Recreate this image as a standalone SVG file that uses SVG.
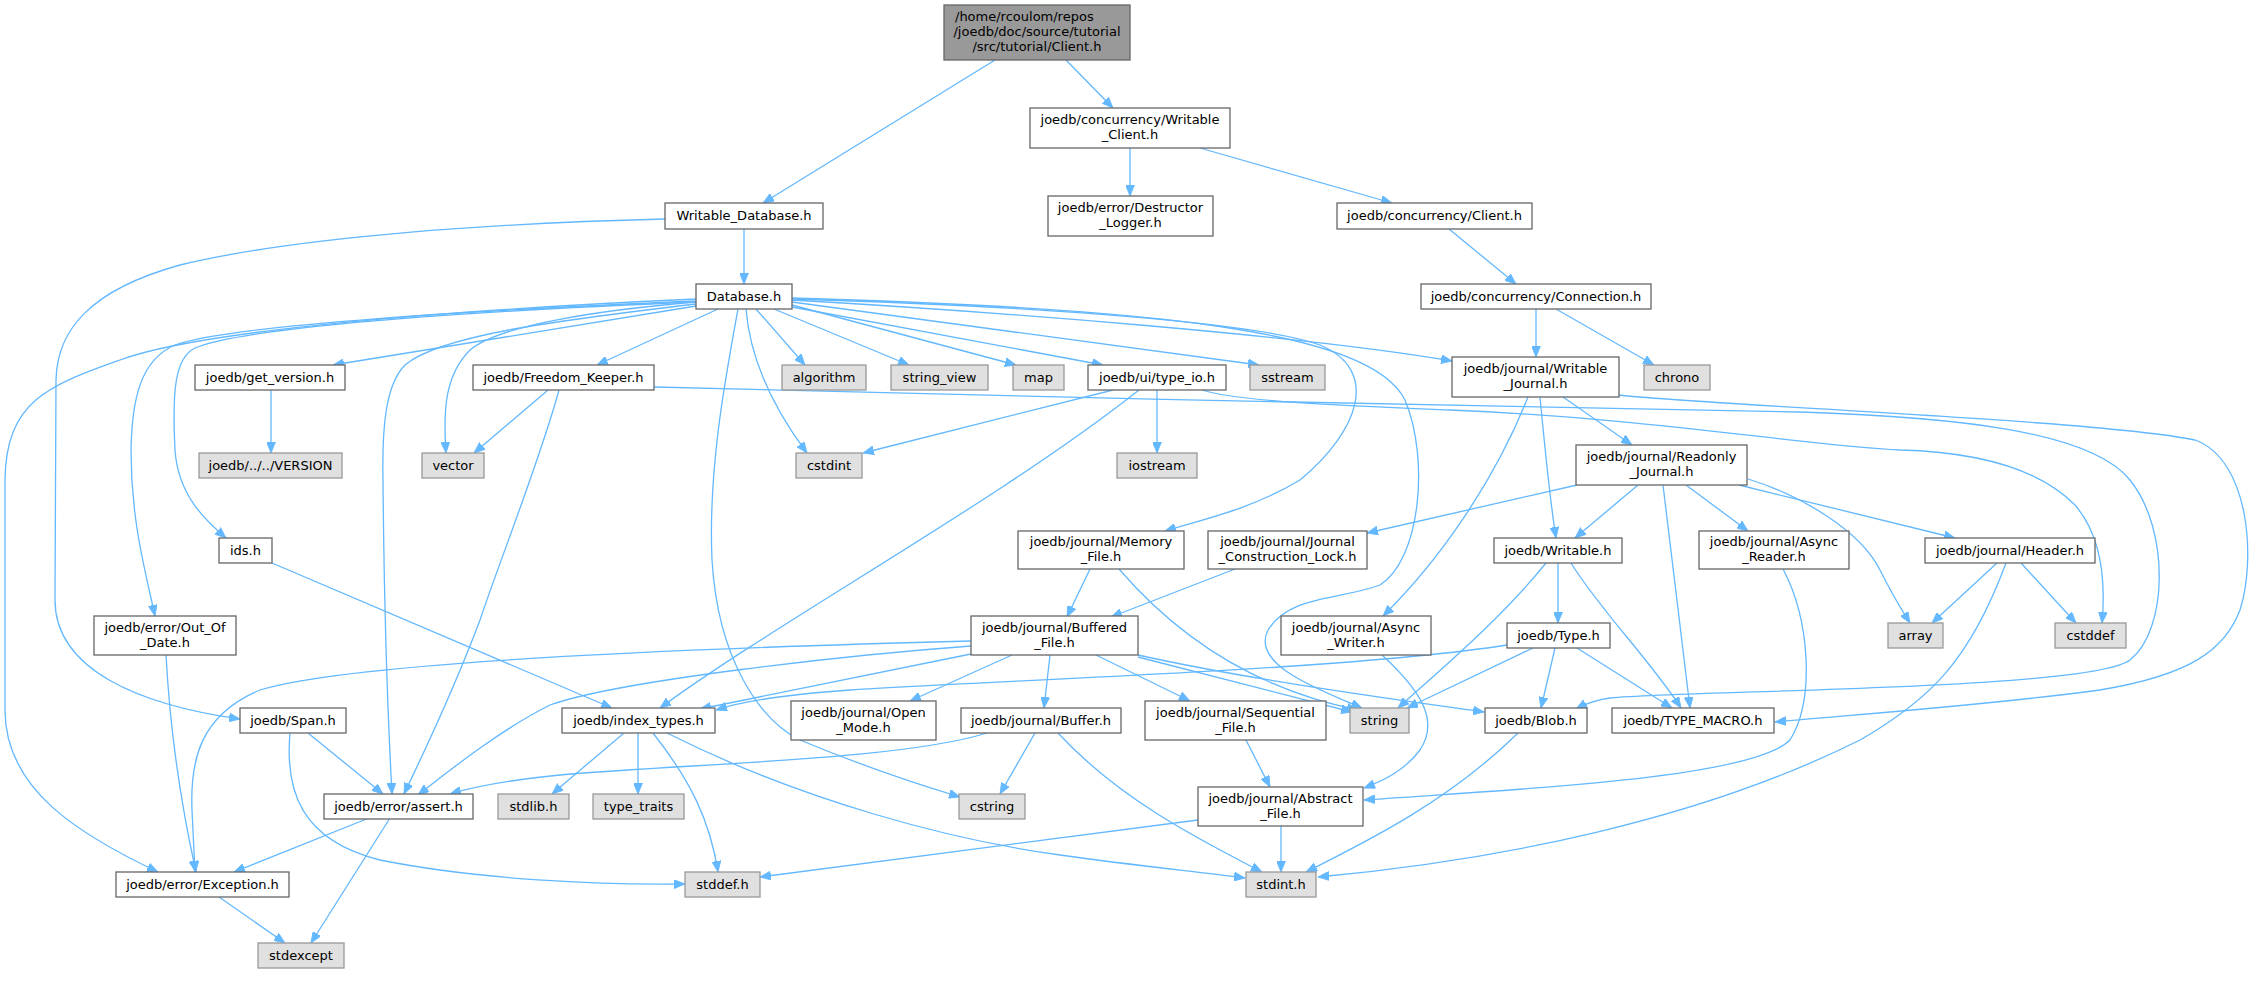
<svg xmlns="http://www.w3.org/2000/svg" width="2256" height="989" viewBox="0 0 2256 989">
<defs>
<style>
.e{fill:none;stroke:#63b8ff;stroke-width:1.3;marker-end:url(#a)}
.w{fill:#ffffff;stroke:#666666;stroke-width:1.3}
.x{fill:#e0e0e0;stroke:#999999;stroke-width:1.3}
.r{fill:#999999;stroke:#666666;stroke-width:1.3}
text{font-family:"DejaVu Sans","Liberation Sans",sans-serif;font-size:13px;fill:#000000;text-anchor:middle}
text.l{text-anchor:start}
</style>
<marker id="a" markerUnits="userSpaceOnUse" markerWidth="11" markerHeight="9" refX="11" refY="4.5" orient="auto" viewBox="0 0 11 9"><path d="M0,0 L11,4.5 L0,9 z" fill="#63b8ff" stroke="#63b8ff" stroke-width="0.8"/></marker>
</defs>
<rect x="0" y="0" width="2256" height="989" fill="#ffffff"/>
<g id="edges">
<path class="e" d="M995,60 L763,203"/>
<path class="e" d="M1066,60 L1113,108"/>
<path class="e" d="M1130,148 L1130,196"/>
<path class="e" d="M1200,148 L1392,203"/>
<path class="e" d="M744,229 L744,284"/>
<path class="e" d="M665,219 C500,223 300,236 180,265 C90,290 57,330 56,380 L55,600 C55,670 140,705 240,719"/>
<path class="e" d="M1449,229 L1516,284"/>
<path class="e" d="M1536,309 L1536,357"/>
<path class="e" d="M1556,309 L1654,365"/>
<path class="e" d="M696,306 L333,365"/>
<path class="e" d="M718,309 L597,365"/>
<path class="e" d="M756,309 L805,365"/>
<path class="e" d="M774,309 L909,365"/>
<path class="e" d="M792,305 L1016,365"/>
<path class="e" d="M792,307 L1103,365"/>
<path class="e" d="M792,302 L1259,365"/>
<path class="e" d="M792,300 C1000,312 1300,335 1452,361"/>
<path class="e" d="M792,299 C1000,305 1250,320 1320,345 C1380,370 1360,430 1300,480 C1250,510 1200,520 1165,531"/>
<path class="e" d="M792,298 C1150,308 1370,330 1405,400 C1430,460 1420,560 1380,585 C1340,600 1290,595 1268,630 C1250,665 1320,690 1362,708"/>
<path class="e" d="M696,302 C600,310 500,325 470,350 C445,375 443,410 446,453"/>
<path class="e" d="M746,309 C750,360 775,410 807,453"/>
<path class="e" d="M738,309 C725,380 708,470 712,560 C718,660 760,720 800,740 C860,765 910,782 960,797"/>
<path class="e" d="M696,302 C500,310 250,325 195,348 C175,358 172,390 175,450 C178,495 205,520 226,538"/>
<path class="e" d="M696,301 C480,310 230,325 175,345 C140,360 132,400 131,450 C131,520 145,570 155,616"/>
<path class="e" d="M696,299 C450,310 200,330 120,360 C50,385 6,400 5,480 L5,710 C5,790 80,835 158,872"/>
<path class="e" d="M696,304 C560,320 440,335 405,365 C385,385 382,430 383,480 C384,600 388,720 392,794"/>
<path class="e" d="M548,390 L474,453"/>
<path class="e" d="M559,390 C540,460 500,560 480,620 C450,700 420,760 404,794"/>
<path class="e" d="M654,387 C1000,398 1500,405 1800,412 C1950,417 2090,430 2130,480 C2170,530 2168,630 2130,660 C2090,690 1700,690 1610,698 C1595,700 1585,704 1576,709"/>
<path class="e" d="M1113,390 L863,453"/>
<path class="e" d="M1157,390 L1157,453"/>
<path class="e" d="M1139,390 C1000,500 780,620 660,708"/>
<path class="e" d="M1202,390 C1240,402 1350,406 1450,410 C1650,418 1800,445 1900,450 C1980,452 2040,470 2075,505 C2105,540 2105,590 2102,623"/>
<path class="e" d="M1563,397 L1632,445"/>
<path class="e" d="M1540,397 C1545,450 1550,500 1556,538"/>
<path class="e" d="M1528,397 C1495,480 1440,560 1383,616"/>
<path class="e" d="M1619,395 C1700,405 2100,420 2195,440 C2250,460 2256,560 2240,610 C2225,650 2190,675 2100,690 C1990,705 1850,715 1775,722"/>
<path class="e" d="M1577,485 L1367,533"/>
<path class="e" d="M1638,485 L1575,538"/>
<path class="e" d="M1663,485 L1690,708"/>
<path class="e" d="M1686,485 L1748,531"/>
<path class="e" d="M1748,479 C1800,495 1860,530 1880,570 C1895,600 1905,615 1910,623"/>
<path class="e" d="M1739,485 L1955,538"/>
<path class="e" d="M1546,563 C1500,620 1440,670 1398,708"/>
<path class="e" d="M1558,563 L1558,623"/>
<path class="e" d="M1571,563 C1600,610 1650,660 1681,708"/>
<path class="e" d="M1533,648 L1407,708"/>
<path class="e" d="M1555,648 L1541,708"/>
<path class="e" d="M1577,648 L1672,708"/>
<path class="e" d="M1507,645 C1350,670 1000,680 850,690 C780,695 740,702 716,710"/>
<path class="e" d="M1997,563 L1932,623"/>
<path class="e" d="M2021,563 L2076,623"/>
<path class="e" d="M2006,563 C1970,660 1930,700 1860,740 C1700,820 1500,860 1318,877"/>
<path class="e" d="M1783,569 C1810,620 1815,700 1790,740 C1750,780 1500,790 1364,800"/>
<path class="e" d="M1235,569 L1111,617"/>
<path class="e" d="M1090,569 L1067,617"/>
<path class="e" d="M1119,569 C1180,640 1260,690 1358,710"/>
<path class="e" d="M1138,657 L1352,712"/>
<path class="e" d="M1138,655 C1250,680 1400,700 1484,712"/>
<path class="e" d="M1096,655 L1190,701"/>
<path class="e" d="M1050,655 L1044,708"/>
<path class="e" d="M1012,655 L910,701"/>
<path class="e" d="M971,654 L700,709"/>
<path class="e" d="M971,646 C850,655 620,680 550,705 C500,730 450,770 418,795"/>
<path class="e" d="M971,641 C700,648 350,662 260,690 C200,715 190,760 192,810 L195,872"/>
<path class="e" d="M987,733 C900,760 700,763 560,775 C510,780 470,788 450,794"/>
<path class="e" d="M1035,733 L1000,794"/>
<path class="e" d="M1058,733 C1120,800 1200,840 1262,872"/>
<path class="e" d="M1246,740 L1270,787"/>
<path class="e" d="M1382,655 C1420,690 1440,720 1420,750 C1405,770 1385,780 1364,788"/>
<path class="e" d="M1198,820 L760,877"/>
<path class="e" d="M1281,826 L1281,872"/>
<path class="e" d="M1518,733 C1450,800 1370,840 1306,872"/>
<path class="e" d="M624,733 L552,794"/>
<path class="e" d="M638,733 L638,794"/>
<path class="e" d="M653,733 C690,780 710,820 718,872"/>
<path class="e" d="M667,733 C800,800 950,840 1060,855 C1130,865 1200,872 1245,878"/>
<path class="e" d="M308,733 L383,794"/>
<path class="e" d="M290,733 C285,790 300,840 380,860 C480,880 600,885 685,884"/>
<path class="e" d="M272,563 L612,708"/>
<path class="e" d="M369,818 L234,872"/>
<path class="e" d="M390,818 L311,943"/>
<path class="e" d="M219,897 L285,943"/>
<path class="e" d="M166,655 C170,730 180,800 196,872"/>
<path class="e" d="M271,390 L271,453"/>
</g>
<g id="n_root"><rect class="r" x="944" y="5" width="186" height="55"/><text class="l" x="955" y="21">/home/rcoulom/repos</text><text x="1037" y="36">/joedb/doc/source/tutorial</text><text x="1037" y="51">/src/tutorial/Client.h</text></g>
<g id="n_writable_database"><rect class="w" x="665" y="203" width="158" height="26"/><text x="744" y="220">Writable_Database.h</text></g>
<g id="n_writable_client"><rect class="w" x="1030" y="108" width="200" height="40"/><text x="1130" y="124">joedb/concurrency/Writable</text><text x="1130" y="139">_Client.h</text></g>
<g id="n_destructor_logger"><rect class="w" x="1048" y="196" width="165" height="40"/><text x="1130.5" y="212">joedb/error/Destructor</text><text x="1130.5" y="227">_Logger.h</text></g>
<g id="n_conc_client"><rect class="w" x="1337" y="203" width="195" height="26"/><text x="1434.5" y="220">joedb/concurrency/Client.h</text></g>
<g id="n_database"><rect class="w" x="696" y="284" width="96" height="25"/><text x="744" y="301">Database.h</text></g>
<g id="n_connection"><rect class="w" x="1421" y="284" width="230" height="25"/><text x="1536" y="301">joedb/concurrency/Connection.h</text></g>
<g id="n_get_version"><rect class="w" x="195" y="365" width="150" height="25"/><text x="270" y="382">joedb/get_version.h</text></g>
<g id="n_freedom_keeper"><rect class="w" x="473" y="365" width="181" height="25"/><text x="563.5" y="382">joedb/Freedom_Keeper.h</text></g>
<g id="n_algorithm"><rect class="x" x="782" y="365" width="84" height="25"/><text x="824" y="382">algorithm</text></g>
<g id="n_string_view"><rect class="x" x="891" y="365" width="97" height="25"/><text x="939.5" y="382">string_view</text></g>
<g id="n_map"><rect class="x" x="1013" y="365" width="51" height="25"/><text x="1038.5" y="382">map</text></g>
<g id="n_type_io"><rect class="w" x="1088" y="365" width="138" height="25"/><text x="1157" y="382">joedb/ui/type_io.h</text></g>
<g id="n_sstream"><rect class="x" x="1250" y="365" width="75" height="25"/><text x="1287.5" y="382">sstream</text></g>
<g id="n_writable_journal"><rect class="w" x="1452" y="357" width="167" height="40"/><text x="1535.5" y="373">joedb/journal/Writable</text><text x="1535.5" y="388">_Journal.h</text></g>
<g id="n_chrono"><rect class="x" x="1644" y="365" width="66" height="25"/><text x="1677" y="382">chrono</text></g>
<g id="n_version"><rect class="x" x="199" y="453" width="143" height="25"/><text x="270.5" y="470">joedb/../../VERSION</text></g>
<g id="n_vector"><rect class="x" x="422" y="453" width="62" height="25"/><text x="453" y="470">vector</text></g>
<g id="n_cstdint"><rect class="x" x="796" y="453" width="66" height="25"/><text x="829" y="470">cstdint</text></g>
<g id="n_iostream"><rect class="x" x="1117" y="453" width="80" height="25"/><text x="1157" y="470">iostream</text></g>
<g id="n_readonly_journal"><rect class="w" x="1576" y="445" width="171" height="40"/><text x="1661.5" y="461">joedb/journal/Readonly</text><text x="1661.5" y="476">_Journal.h</text></g>
<g id="n_ids"><rect class="w" x="219" y="538" width="53" height="25"/><text x="245.5" y="555">ids.h</text></g>
<g id="n_memory_file"><rect class="w" x="1018" y="531" width="166" height="38"/><text x="1101" y="546">joedb/journal/Memory</text><text x="1101" y="561">_File.h</text></g>
<g id="n_journal_construction_lock"><rect class="w" x="1208" y="531" width="159" height="38"/><text x="1287.5" y="546">joedb/journal/Journal</text><text x="1287.5" y="561">_Construction_Lock.h</text></g>
<g id="n_writable"><rect class="w" x="1494" y="538" width="128" height="25"/><text x="1558" y="555">joedb/Writable.h</text></g>
<g id="n_async_reader"><rect class="w" x="1699" y="531" width="150" height="38"/><text x="1774" y="546">joedb/journal/Async</text><text x="1774" y="561">_Reader.h</text></g>
<g id="n_header"><rect class="w" x="1925" y="538" width="170" height="25"/><text x="2010" y="555">joedb/journal/Header.h</text></g>
<g id="n_out_of_date"><rect class="w" x="94" y="616" width="142" height="39"/><text x="165" y="632">joedb/error/Out_Of</text><text x="165" y="647">_Date.h</text></g>
<g id="n_buffered_file"><rect class="w" x="971" y="616" width="167" height="39"/><text x="1054.5" y="632">joedb/journal/Buffered</text><text x="1054.5" y="647">_File.h</text></g>
<g id="n_async_writer"><rect class="w" x="1281" y="616" width="150" height="39"/><text x="1356" y="632">joedb/journal/Async</text><text x="1356" y="647">_Writer.h</text></g>
<g id="n_type"><rect class="w" x="1507" y="623" width="103" height="25"/><text x="1558.5" y="640">joedb/Type.h</text></g>
<g id="n_array"><rect class="x" x="1888" y="623" width="55" height="25"/><text x="1915.5" y="640">array</text></g>
<g id="n_cstddef"><rect class="x" x="2055" y="623" width="71" height="25"/><text x="2090.5" y="640">cstddef</text></g>
<g id="n_span"><rect class="w" x="240" y="708" width="106" height="25"/><text x="293" y="725">joedb/Span.h</text></g>
<g id="n_index_types"><rect class="w" x="562" y="708" width="153" height="25"/><text x="638.5" y="725">joedb/index_types.h</text></g>
<g id="n_open_mode"><rect class="w" x="791" y="701" width="145" height="39"/><text x="863.5" y="717">joedb/journal/Open</text><text x="863.5" y="732">_Mode.h</text></g>
<g id="n_buffer"><rect class="w" x="961" y="708" width="160" height="25"/><text x="1041" y="725">joedb/journal/Buffer.h</text></g>
<g id="n_sequential_file"><rect class="w" x="1145" y="701" width="181" height="39"/><text x="1235.5" y="717">joedb/journal/Sequential</text><text x="1235.5" y="732">_File.h</text></g>
<g id="n_string"><rect class="x" x="1350" y="708" width="59" height="25"/><text x="1379.5" y="725">string</text></g>
<g id="n_blob"><rect class="w" x="1485" y="708" width="102" height="25"/><text x="1536" y="725">joedb/Blob.h</text></g>
<g id="n_type_macro"><rect class="w" x="1612" y="708" width="162" height="25"/><text x="1693" y="725">joedb/TYPE_MACRO.h</text></g>
<g id="n_abstract_file"><rect class="w" x="1198" y="787" width="165" height="39"/><text x="1280.5" y="803">joedb/journal/Abstract</text><text x="1280.5" y="818">_File.h</text></g>
<g id="n_assert"><rect class="w" x="324" y="794" width="149" height="25"/><text x="398.5" y="811">joedb/error/assert.h</text></g>
<g id="n_stdlib"><rect class="x" x="498" y="794" width="71" height="25"/><text x="533.5" y="811">stdlib.h</text></g>
<g id="n_type_traits"><rect class="x" x="593" y="794" width="91" height="25"/><text x="638.5" y="811">type_traits</text></g>
<g id="n_cstring"><rect class="x" x="959" y="794" width="66" height="25"/><text x="992" y="811">cstring</text></g>
<g id="n_exception"><rect class="w" x="116" y="872" width="173" height="25"/><text x="202.5" y="889">joedb/error/Exception.h</text></g>
<g id="n_stddef"><rect class="x" x="685" y="872" width="75" height="25"/><text x="722.5" y="889">stddef.h</text></g>
<g id="n_stdint"><rect class="x" x="1246" y="872" width="70" height="25"/><text x="1281" y="889">stdint.h</text></g>
<g id="n_stdexcept"><rect class="x" x="258" y="943" width="86" height="25"/><text x="301" y="960">stdexcept</text></g>
</svg>
